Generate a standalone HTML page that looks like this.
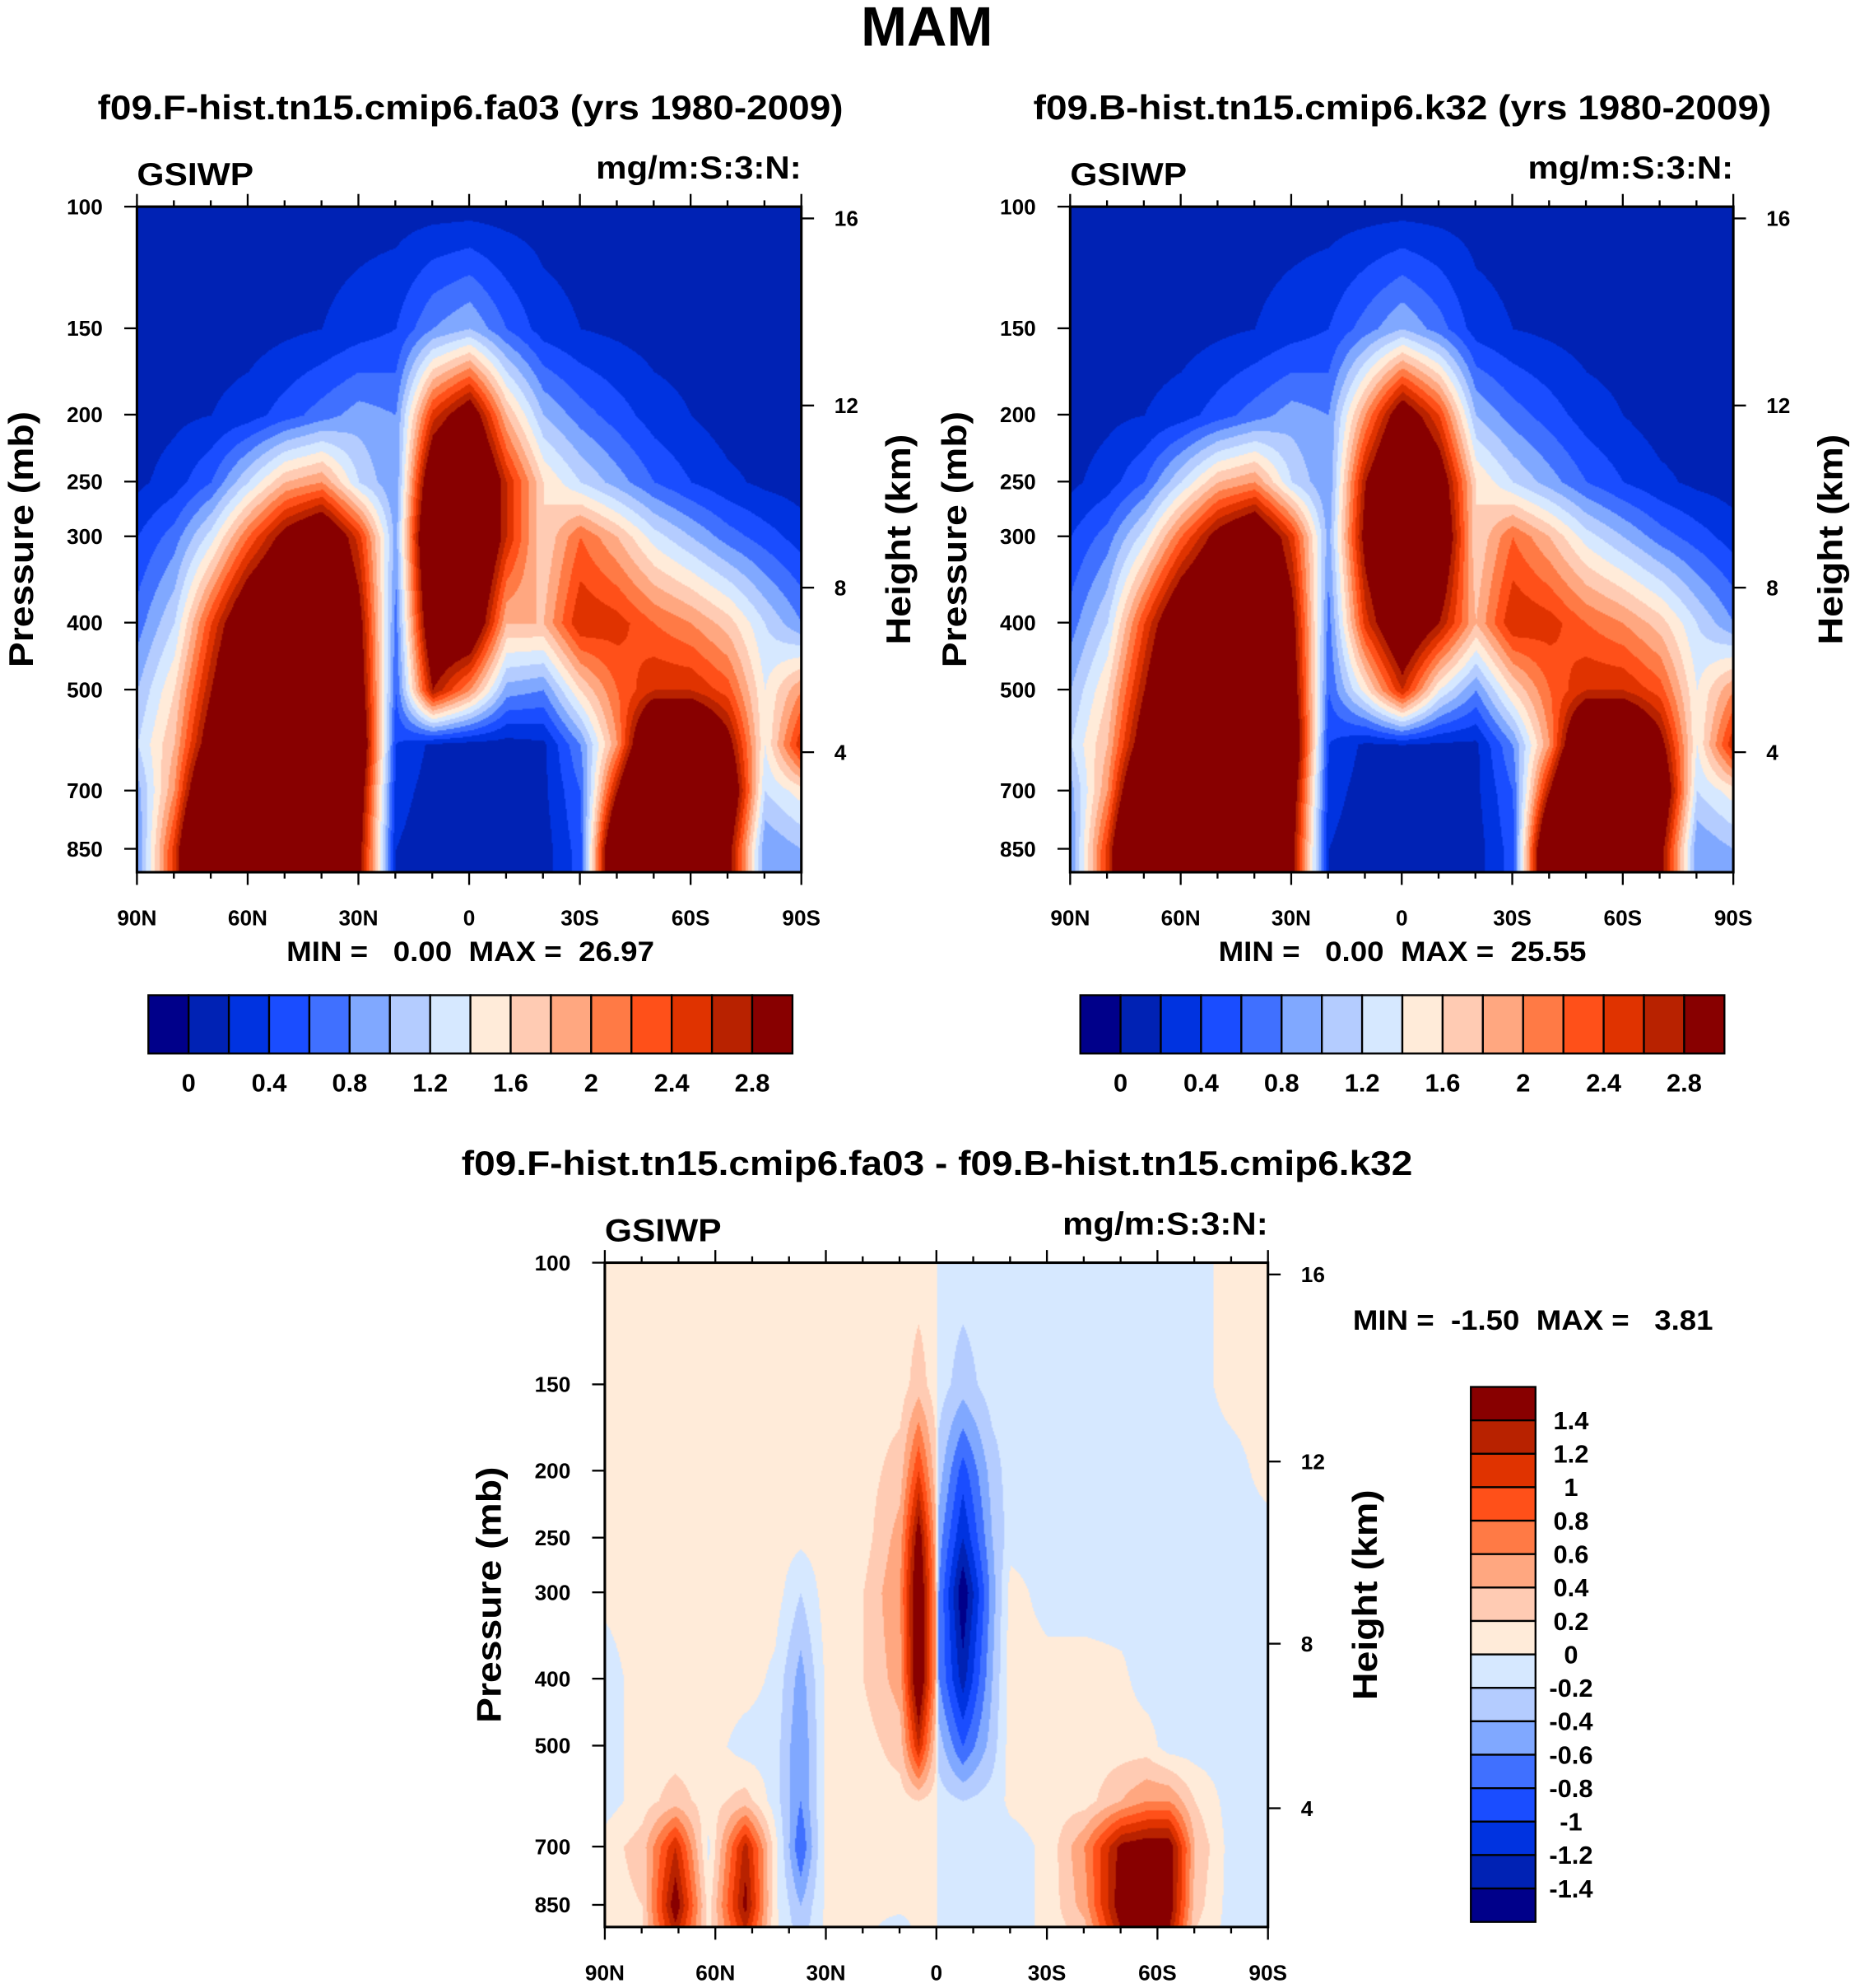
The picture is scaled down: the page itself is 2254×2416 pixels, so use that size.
<!DOCTYPE html>
<html><head><meta charset="utf-8"><style>
html,body{margin:0;padding:0;background:#fff;width:2254px;height:2416px;overflow:hidden}
#root{position:absolute;left:0;top:0;width:1463px;height:1568px;transform:scale(1.5407);transform-origin:0 0}
canvas{position:absolute}
svg{position:absolute;left:0;top:0}
text{font-family:"Liberation Sans",sans-serif;font-weight:bold;fill:#000;white-space:pre}
</style></head><body>
<div id="root">
<canvas id="c1" width="524" height="525" style="left:108px;top:163px"></canvas>
<canvas id="c2" width="523" height="525" style="left:844px;top:163px"></canvas>
<canvas id="c3" width="523" height="524" style="left:477px;top:996px"></canvas>
<svg id="ov" width="1463" height="1568"></svg>
</div>
<script>
const colors=["#00008a","#0022b4","#0033e0","#1a4dff","#4070ff","#80a8ff","#b4ccff","#d6e8ff","#ffebd9","#ffcbb3","#ffa780","#ff7a45","#ff5019","#e03300","#b82200","#880000"];
const levelsAbs=[0,0.2,0.4,0.6,0.8,1.0,1.2,1.4,1.6,1.8,2.0,2.2,2.4,2.6,2.8];
const levelsDiff=[-1.4,-1.2,-1.0,-0.8,-0.6,-0.4,-0.2,0,0.2,0.4,0.6,0.8,1.0,1.2,1.4];
const pLevels=[100,150,200,250,300,400,500,600,700,850,925];
const latsAbs=[90,80,70,60,50,40,30,20,10,0,-10,-20,-30,-40,-50,-60,-70,-80,-90];
const fieldF=[
[.1,.1,.1,.1,.1,.1,.1,.1,.1,.1,.1,.1,.1,.1,.1,.1,.1,.1,.1],
[.1,.1,.1,.1,.15,.2,.3,.4,.8,1.0,.6,.3,.2,.15,.1,.1,.1,.1,.1],
[.1,.15,.2,.3,.5,.7,.9,.8,2.5,3.2,1.8,1.0,.7,.5,.3,.2,.1,.1,.1],
[.15,.3,.6,1.2,1.8,2.0,1.2,.8,3.5,4,2.6,1.6,1.2,.9,.6,.4,.25,.15,.1],
[.4,.7,1.3,2.2,3,3.5,2.5,.9,4,4,2.6,1.6,2.2,1.8,1.3,1.0,.7,.5,.3],
[.7,1.2,2.4,3.5,4,4,3,.7,3.5,3.5,1.8,1.8,2.6,2.5,2.2,2.0,1.7,1.2,.8],
[1.0,1.6,2.8,4,4,4,3.2,.6,2.8,2.0,.9,.8,1.6,2.2,2.6,2.6,2.3,1.4,2],
[1.2,1.8,3.2,5,5,5,3.5,.4,.15,.1,.1,.15,.8,2.0,4,4,3.0,1.4,2.6],
[.9,2.0,4,5,5,5,3.2,.3,.1,.1,.1,.15,.6,2.8,5,5,3.5,1.2,1.5],
[.8,2.5,5,5,5,5,3,.2,.05,.05,.05,.1,.5,4,5,5,3,.8,1],
[.8,2.5,5,5,5,5,3,.2,.05,.05,.05,.1,.5,4,5,5,3,.8,1]];
const fieldB=[
[.1,.1,.1,.1,.1,.1,.1,.1,.1,.1,.1,.1,.1,.1,.1,.1,.1,.1,.1],
[.1,.1,.1,.1,.15,.2,.3,.4,.7,1.0,.7,.3,.2,.15,.1,.1,.1,.1,.1],
[.1,.15,.2,.3,.5,.7,.9,.8,2.0,3.2,2.4,1.0,.7,.5,.3,.2,.1,.1,.1],
[.15,.3,.6,1.2,1.8,2.0,1.2,.8,2.8,4,3.2,1.6,1.2,.9,.6,.4,.25,.15,.1],
[.4,.7,1.3,2.2,3,3.5,2.5,.9,3.0,4,3.5,1.6,2.2,1.8,1.3,1.0,.7,.5,.3],
[.7,1.2,2.4,3.5,4,4,3,.7,2.5,3.5,2.8,1.8,2.6,2.5,2.2,2.0,1.7,1.2,.8],
[1.0,1.6,2.8,4,4,4,3.2,.6,1.5,2.6,1.4,.8,1.6,2.2,2.6,2.6,2.3,1.4,2],
[1.2,1.8,3.2,5,5,5,3.5,.4,.15,.2,.15,.15,.8,2.0,4,4,3.0,1.4,2.6],
[.9,2.0,4,5,5,5,3.2,.3,.1,.1,.1,.15,.6,2.8,5,5,3.5,1.2,1.5],
[.8,2.5,5,5,5,5,3,.2,.05,.05,.05,.1,.5,4,5,5,3,.8,1],
[.8,2.5,5,5,5,5,3,.2,.05,.05,.05,.1,.5,4,5,5,3,.8,1]];
const latsDiff=[90,80,71,62,52,44,37,30,20,10,5,0.5,-0.5,-7,-15,-20,-30,-40,-50,-57,-63,-70,-80,-90];
const fieldD=[
[.1,.1,.1,.1,.1,.1,.1,.1,.1,.1,.1,.1,-.1,-.1,-.1,-.1,-.1,-.1,-.1,-.1,-.1,-.1,.1,.1],
[.1,.1,.1,.1,.1,.1,.1,.1,.1,.1,.3,.1,-.1,-.3,-.1,-.1,-.1,-.1,-.1,-.1,-.1,-.1,.1,.1],
[.1,.1,.1,.1,.1,.1,.1,.1,.1,.3,1.0,.3,-.3,-.9,-.3,-.1,-.1,-.1,-.1,-.1,-.1,-.1,-.1,.1],
[.1,.1,.1,.1,.1,.1,.05,.1,.1,.5,1.6,.5,-.5,-1.2,-.4,-.1,-.1,-.1,-.1,-.1,-.1,-.1,-.1,-.1],
[.05,.1,.1,.1,.1,.1,-.2,.1,.2,.6,1.8,.6,-.6,-1.6,-.5,.1,-.1,-.1,-.1,-.1,-.1,-.1,-.1,-.1],
[-.1,.1,.1,.1,.1,-.05,-.5,.05,.2,.5,1.8,.6,-.6,-1.3,-.4,.1,.1,.1,.05,-.1,-.1,-.1,-.1,-.1],
[-.1,.1,.1,.1,-.1,-.1,-.6,.05,.1,.3,1.2,.3,-.3,-.8,-.3,.1,.1,.1,.1,.1,-.1,-.1,-.1,-.1],
[-.1,.1,.3,.1,.3,-.1,-.6,.05,.1,.1,.2,.1,-.1,-.2,-.1,.05,.1,.1,.4,.6,.6,.2,-.1,-.1],
[.1,.3,1.2,-.05,1.3,.1,-.8,.1,.05,.05,.05,.05,-.05,-.1,-.1,-.1,.05,.6,1.5,1.6,1.6,.4,-.1,-.1],
[.1,.2,1.6,.1,1.5,.05,-.4,.05,.05,.05,.05,.05,-.1,-.1,-.1,-.1,.05,.5,1.6,1.6,1.6,.3,-.1,-.1],
[.1,.2,1.3,.1,1.2,.05,-.3,.05,.05,-.1,.05,.05,-.1,-.1,-.1,-.1,.05,.3,1.4,1.6,1.4,.2,-.1,-.1]];
const pressTicks=[100,150,200,250,300,400,500,700,850];
const heightTicks=[16,12,8,4];
const heightP=[104,194,356,616];
const latTicks=[90,60,30,0,-30,-60,-90];
const latLabels=["90N","60N","30N","0","30S","60S","90S"];

const PX_DEC=545;
function yOfP(p,top){return top+Math.log10(p/100)*PX_DEC;}
function xOfLat(lat,left,w){return left+(90-lat)/180*w;}
function hexRgb(h){return [parseInt(h.substr(1,2),16),parseInt(h.substr(3,2),16),parseInt(h.substr(5,2),16)];}
const rgb=colors.map(hexRgb);
function interp(arr,v){
  for(let i=0;i<arr.length-1;i++){const a=arr[i],b=arr[i+1];
    if((v-a)*(v-b)<=0){return [i,(v-a)/(b-a)];}}
  return v<arr[0]===arr[0]<arr[1]?[0,0]:[arr.length-2,1];
}
function draw(id,lats,field,levels){
  const c=document.getElementById(id),ctx=c.getContext('2d'),W=c.width,H=c.height;
  const img=ctx.createImageData(W,H);
  const lp=pLevels.map(p=>Math.log10(p));
  for(let y=0;y<H;y++){
    const p=100*Math.pow(10,y/PX_DEC);const [j,fy]=interp(lp,Math.log10(p));
    for(let x=0;x<W;x++){
      const lat=90-x/W*180;const [i,fx]=interp(lats,lat);
      const v=(field[j][i]*(1-fx)+field[j][i+1]*fx)*(1-fy)+(field[j+1][i]*(1-fx)+field[j+1][i+1]*fx)*fy;
      let k=0;while(k<levels.length&&v>=levels[k])k++;
      const col=rgb[k],o=(y*W+x)*4;img.data[o]=col[0];img.data[o+1]=col[1];img.data[o+2]=col[2];img.data[o+3]=255;}
  }
  ctx.putImageData(img,0,0);
}
draw('c1',latsAbs,fieldF,levelsAbs);
draw('c2',latsAbs,fieldB,levelsAbs);
draw('c3',latsDiff,fieldD,levelsDiff);

const NS="http://www.w3.org/2000/svg",ov=document.getElementById('ov');
function el(tag,attrs,txt){const e=document.createElementNS(NS,tag);for(const k in attrs)e.setAttribute(k,attrs[k]);if(txt!==undefined)e.textContent=txt;ov.appendChild(e);return e;}
function txt(x,y,s,size,anchor,name,rot,len){const e=el('text',{x:x,y:y,'font-size':size,'text-anchor':anchor||'middle'},s);
  if(rot)e.setAttribute('transform','rotate(-90 '+x+' '+y+')');
  if(len){e.setAttribute('textLength',len);e.setAttribute('lengthAdjust','spacingAndGlyphs');}
  
  return e;}
function line(x1,y1,x2,y2,w,name){const e=el('line',{x1:x1,y1:y1,x2:x2,y2:y2,stroke:'#000','stroke-width':w||1.5});
  
  return e;}

function panel(L,T,W,H,title,titleX,titleY,titleLen,minmax,mmX,mmY,mmAnchor,mmLen){
  const R=L+W,B=T+H;
  const f=el('rect',{x:L,y:T,width:W,height:H,fill:'none',stroke:'#000','stroke-width':2});
  
  
  txt(titleX,titleY,title,27,'middle','panel-title',false,titleLen);
  txt(L,T-17,'GSIWP',25,'start','variable-label',false,92);
  txt(R,T-22,'mg/m:S:3:N:',25,'end','units-label',false,162);
  pressTicks.forEach(p=>{const y=yOfP(p,T);line(L-10,y,L,y,1.5,'pressure-tick');txt(L-27,y+6,String(p),17,'end','pressure-tick-label');});
  heightTicks.forEach((h,i)=>{const y=yOfP(heightP[i],T);line(R,y,R+10,y,1.5,'height-tick');txt(R+26,y+6,String(h),17,'start','height-tick-label');});
  for(let lat=90;lat>=-90;lat-=10){const x=xOfLat(lat,L,W);const mj=lat%30===0;
    line(x,B,x,B+(mj?10:5),1.5,'lat-tick');line(x,T,x,T-(mj?10:5),1.5,'lat-tick-top');}
  latTicks.forEach((lat,i)=>txt(xOfLat(lat,L,W),B+42,latLabels[i],17,'middle','lat-tick-label'));
  txt(L-82,(T+B)/2,'Pressure (mb)',27,'middle','y-axis-title',true,202);
  txt(R+86,(T+B)/2,'Height (km)',27,'middle','y2-axis-title',true,166);
  txt(mmX,mmY,minmax,22,mmAnchor,'min-max-label',false,mmLen);
}
txt(731,36,'MAM',44,'middle','figure-title',false,104);
panel(108,163,524,525,'f09.F-hist.tn15.cmip6.fa03 (yrs 1980-2009)',371,94,588,'MIN =   0.00  MAX =  26.97',371,758,'middle',290);
panel(844,163,523,525,'f09.B-hist.tn15.cmip6.k32 (yrs 1980-2009)',1106,94,582,'MIN =   0.00  MAX =  25.55',1106,758,'middle',290);
panel(477,996,523,524,'f09.F-hist.tn15.cmip6.fa03 - f09.B-hist.tn15.cmip6.k32',739,927,750,'MIN =  -1.50  MAX =   3.81',1067,1049,'start',284);

const absLabels=["0","0.4","0.8","1.2","1.6","2","2.4","2.8"];
function hbar(L,T,W,H){const bw=W/16;
  for(let i=0;i<16;i++){const r=el('rect',{x:L+i*bw,y:T,width:bw,height:H,fill:colors[i],stroke:'#000','stroke-width':1.5});
    
    }
  absLabels.forEach((s,i)=>txt(L+(1+2*i)*bw,T+H+30,s,20,'middle','colorbar-label'));
}
hbar(117,785,508,46);hbar(852,785,508,46);
const diffLabels=["1.4","1.2","1","0.8","0.6","0.4","0.2","0","-0.2","-0.4","-0.6","-0.8","-1","-1.2","-1.4"];
(function(){const L=1160,T=1094,W=51,H=422,bh=H/16;
  for(let i=0;i<16;i++){const r=el('rect',{x:L,y:T+i*bh,width:W,height:bh,fill:colors[15-i],stroke:'#000','stroke-width':1.5});
    
    }
  diffLabels.forEach((s,i)=>txt(1239,T+(i+1)*bh+7,s,20,'middle','diff-colorbar-label'));
})();
</script>
</body></html>
